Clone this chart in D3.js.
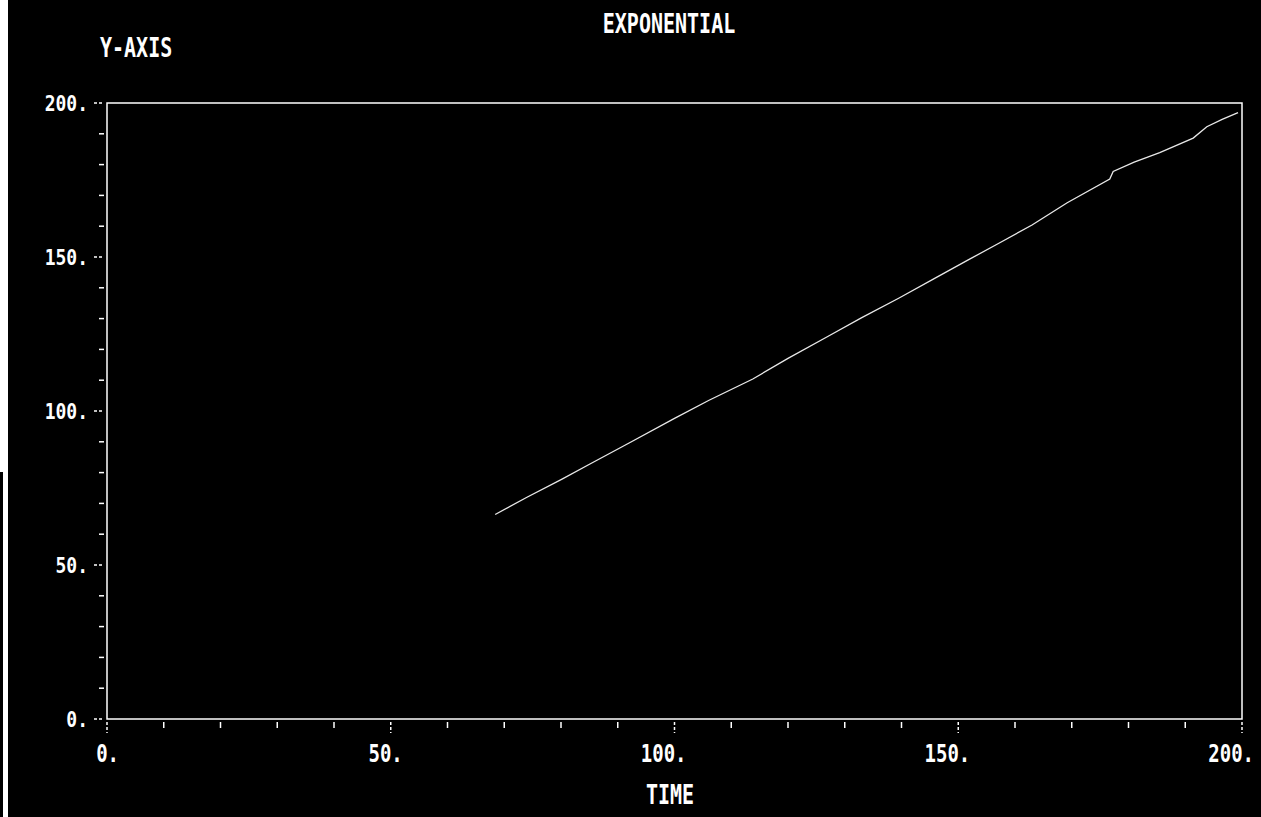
<!DOCTYPE html>
<html>
<head>
<meta charset="utf-8">
<script src="https://cdn.jsdelivr.net/npm/d3@7"></script>
<style>
  html, body { margin: 0; padding: 0; background: #000; }
  svg { display: block; }
</style>
</head>
<body>
<div id="chart"></div>
<script>
// values
const time   = [68.4, 74, 80.1, 85.1, 92, 100, 106, 113.8, 120, 127, 133, 139.5, 146, 152, 157.4, 163, 169.2, 176.7, 177.3, 181, 185.5, 191.4, 193.8, 196.5, 199.3];
const yValue = [66.4, 72.0, 77.8, 82.8, 89.6, 97.6, 103.4, 110.4, 117.1, 124.2, 130.3, 136.6, 143.2, 149.3, 154.7, 160.4, 167.6, 175.3, 177.8, 180.8, 183.9, 188.6, 192.3, 194.7, 196.9];

const xMajor = [0, 50, 100, 150, 200];
const yMajor = [0, 50, 100, 150, 200];
const fmt = d => d + ".";

const width = 1261, height = 817;
const plotLeft = 107, plotRight = 1242, plotTop = 103, plotBottom = 719;

const svg = d3.select("#chart").append("svg")
    .attr("width", width)
    .attr("height", height);

svg.append("rect").attr("width", width).attr("height", height).attr("fill", "#000");

// scanned page edge on the left
svg.append("rect").attr("x", 0).attr("y", 0).attr("width", 8).attr("height", 472).attr("fill", "#fff");
svg.append("rect").attr("x", 3).attr("y", 472).attr("width", 5).attr("height", height - 472).attr("fill", "#fff");

const x = d3.scaleLinear().domain([0, 200]).range([plotLeft, plotRight]);
const y = d3.scaleLinear().domain([0, 200]).range([plotBottom, plotTop]);

const font = "'DejaVu Sans Mono', monospace";
// the plotter font is tall and narrow, so stretch text vertically
const stretch = 1.3;

// frame
svg.append("rect")
    .attr("x", plotLeft).attr("y", plotTop)
    .attr("width", plotRight - plotLeft).attr("height", plotBottom - plotTop)
    .attr("fill", "none")
    .attr("stroke", "#fff")
    .attr("stroke-width", 1.5);

// x ticks
const xMinor = x.ticks(20).filter(d => d % 50 !== 0);
svg.append("g").selectAll("line")
    .data(xMinor)
    .join("line")
    .attr("x1", d => x(d)).attr("x2", d => x(d))
    .attr("y1", plotBottom + 3).attr("y2", plotBottom + 9)
    .attr("stroke", "#fff").attr("stroke-width", 1.5);

svg.append("g").selectAll("line")
    .data(xMajor)
    .join("line")
    .attr("x1", d => x(d)).attr("x2", d => x(d))
    .attr("y1", plotBottom + 3).attr("y2", plotBottom + 14)
    .attr("stroke", "#fff").attr("stroke-width", 1.5)
    .attr("stroke-dasharray", "3,2");

svg.append("g").selectAll("text")
    .data(xMajor)
    .join("text")
    .attr("transform", d => `translate(${x(d) + 12},762) scale(1,${stretch})`)
    .attr("text-anchor", "end")
    .attr("fill", "#fff")
    .attr("font-family", font)
    .attr("font-weight", "bold")
    .attr("font-size", "19px")
    .text(fmt);

// y ticks
const yMinor = y.ticks(20).filter(d => d % 50 !== 0);
svg.append("g").selectAll("line")
    .data(yMinor)
    .join("line")
    .attr("x1", plotLeft - 8).attr("x2", plotLeft - 3)
    .attr("y1", d => y(d)).attr("y2", d => y(d))
    .attr("stroke", "#fff").attr("stroke-width", 1.5);

svg.append("g").selectAll("line")
    .data(yMajor)
    .join("line")
    .attr("x1", plotLeft - 13).attr("x2", plotLeft - 3)
    .attr("y1", d => y(d)).attr("y2", d => y(d))
    .attr("stroke", "#fff").attr("stroke-width", 1.5)
    .attr("stroke-dasharray", "3,2");

svg.append("g").selectAll("text")
    .data(yMajor)
    .join("text")
    .attr("transform", d => `translate(88,${y(d) + 8}) scale(1,1.15)`)
    .attr("text-anchor", "end")
    .attr("fill", "#fff")
    .attr("font-family", font)
    .attr("font-weight", "bold")
    .attr("font-size", "18px")
    .text(fmt);

// curve
const line = d3.line()
    .x((d, i) => x(time[i]))
    .y(d => y(d));

svg.append("path")
    .datum(yValue)
    .attr("d", line)
    .attr("fill", "none")
    .attr("stroke", "#e8e8e8")
    .attr("stroke-width", 1.3);

// titles
function label(txt, tx, ty, anchor) {
    svg.append("text")
        .attr("transform", `translate(${tx},${ty}) scale(1,${stretch})`)
        .attr("text-anchor", anchor)
        .attr("fill", "#fff")
        .attr("font-family", font)
        .attr("font-weight", "bold")
        .attr("font-size", "20px")
        .text(txt);
}

label("EXPONENTIAL", 669, 33, "middle");
label("Y-AXIS", 100, 57, "start");
label("TIME", 670, 804, "middle");
</script>
</body>
</html>
